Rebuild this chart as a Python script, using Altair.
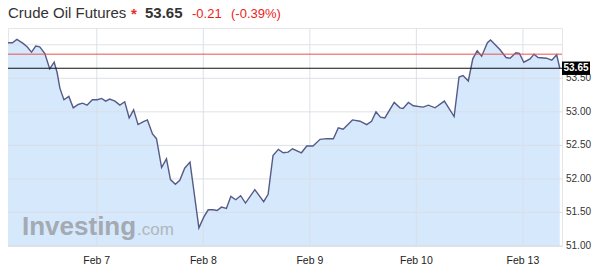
import altair as alt
import pandas as pd

# trading-time hours (Feb 6 00:00 = 0, weekend skipped so Feb 13 = 120)
hours = [4.0, 5.0, 6.0, 7.4, 8.3, 9.3, 10.25, 11.15, 12.3, 13.4,
         14.4, 15.05, 15.7, 16.6, 17.7, 18.7, 19.8, 20.8, 21.8, 23.0,
         24.1, 25.1, 26.0, 26.9, 28.1, 29.2, 30.3, 31.3, 32.3, 33.3,
         34.4, 35.4, 36.55, 37.45, 38.6, 39.7, 40.6, 41.7, 42.7, 43.8,
         45.0, 47.0, 48.1, 49.1, 50.2, 51.1, 52.1, 53.2, 54.2, 55.3,
         56.4, 57.5, 59.6, 61.6, 62.6, 63.7, 64.9, 66.0, 67.1, 68.1,
         70.1, 71.3, 72.7, 74.3, 75.8, 77.3, 78.4, 79.5, 81.6, 83.3,
         84.8, 85.9, 86.9, 87.9, 88.9, 91.0, 92.3, 93.0, 94.2, 95.3,
         97.5, 98.7, 100.2, 102.3, 104.5, 105.6, 106.5, 107.7, 108.7, 109.7,
         110.7, 112.0, 112.7, 114.8, 116.2, 117.1, 118.4, 119.2, 120.2, 121.6,
         122.5, 123.4, 125.3, 126.5, 127.6, 128.3]
prices = [54.03, 54.03, 54.08, 54.02, 53.97, 53.89, 53.98, 53.97, 53.87, 53.64,
          53.74, 53.59, 53.35, 53.18, 53.23, 53.06, 53.11, 53.13, 53.10, 53.18,
          53.18, 53.20, 53.16, 53.19, 53.16, 53.10, 53.15, 52.91, 53.03, 52.81,
          52.85, 52.88, 52.67, 52.60, 52.17, 52.30, 51.99, 51.92, 51.98, 52.16,
          52.25, 51.27, 51.43, 51.54, 51.54, 51.53, 51.58, 51.56, 51.74, 51.69,
          51.75, 51.64, 51.84, 51.66, 51.77, 52.35, 52.44, 52.39, 52.40, 52.45,
          52.39, 52.49, 52.49, 52.59, 52.60, 52.60, 52.76, 52.74, 52.88, 52.86,
          52.81, 52.86, 53.00, 52.92, 52.91, 53.14, 53.06, 53.05, 53.14, 53.09,
          53.07, 53.10, 53.06, 53.16, 52.93, 53.52, 53.54, 53.46, 53.79, 53.91,
          53.83, 54.03, 54.07, 53.93, 53.81, 53.80, 53.88, 53.87, 53.74, 53.79,
          53.86, 53.81, 53.80, 53.77, 53.85, 53.65]

tick_hours = [24, 48, 72, 96, 120]
tick_labels = ["Feb 7", "Feb 8", "Feb 9", "Feb 10", "Feb 13"]
grid_prices = [51.0, 51.5, 52.0, 52.5, 53.0, 53.5, 54.0]
label_prices = [51.0, 51.5, 52.0, 52.5, 53.0, 53.5]

last_price = 53.65
prev_close = 53.86
change_text = "-0.21"
pct_text = "(-0.39%)"
title_text = "Crude Oil Futures"

FONT = "Liberation Sans"
GRID = "#d9dde4"

df = pd.DataFrame({"h": hours, "p": prices})

xscale = alt.Scale(domain=[4, 128.8], nice=False, zero=False)
yscale = alt.Scale(domain=[51.0, 54.25], nice=False, zero=False)

X = alt.X("h:Q", scale=xscale, axis=None)
Y = alt.Y("p:Q", scale=yscale, axis=None)

base = alt.Chart(df)

area = base.mark_area(color="#d6e8fc", opacity=1, clip=True).encode(
    x=X, y=Y, y2=alt.datum(51.0))
line = base.mark_line(color="#555b88", strokeWidth=1.4, clip=True).encode(
    x=X, y=Y)

ygrid = alt.Chart(pd.DataFrame({"p": grid_prices})).mark_rule(
    color=GRID, strokeWidth=1, opacity=0.9).encode(y=Y)
xgrid = alt.Chart(pd.DataFrame({"h": tick_hours})).mark_rule(
    color=GRID, strokeWidth=1, opacity=0.9).encode(x=X)

ylabels = alt.Chart(pd.DataFrame({"p": label_prices})).mark_text(
    align="left", baseline="middle", fontSize=10, color="#333333", font=FONT
).encode(x=alt.value(558), y=Y, text=alt.Text("p:Q", format=".2f"))
xlabels = alt.Chart(pd.DataFrame({"h": tick_hours, "lab": tick_labels})).mark_text(
    align="center", baseline="middle", fontSize=10.5, color="#222222", font=FONT
).encode(x=X, y=alt.value(233), text="lab:N")

red_rule = alt.Chart(pd.DataFrame({"p": [prev_close]})).mark_rule(
    color="#e5534f", strokeWidth=1).encode(y=Y)
black_rule = alt.Chart(pd.DataFrame({"p": [last_price]})).mark_rule(
    color="#111111", strokeWidth=1.2).encode(y=Y)

box = alt.Chart(pd.DataFrame({"p": [last_price]})).transform_calculate(
    p1="datum.p + 0.1", p2="datum.p - 0.1").mark_rect(color="#000000").encode(
    x=alt.value(554), x2=alt.value(582),
    y=alt.Y("p1:Q", scale=yscale, axis=None), y2="p2:Q")
box_text = alt.Chart(pd.DataFrame({"p": [last_price]})).mark_text(
    color="white", fontSize=10, fontWeight="bold", font=FONT, align="center",
    baseline="middle").encode(x=alt.value(568), y=Y,
                              text=alt.Text("p:Q", format=".2f"))

def label(txt, x, y, size, color, weight="normal"):
    return alt.Chart(pd.DataFrame({"t": [txt]})).mark_text(
        align="left", baseline="alphabetic", fontSize=size, color=color,
        fontWeight=weight, font=FONT).encode(
        x=alt.value(x), y=alt.value(y), text="t:N")

t1 = label(title_text, 0, -10.5, 15, "#333333")
t2 = label("*", 123, -9, 15, "#e8302b", "bold")
t3 = label(f"{last_price:.2f}", 137, -10.5, 15, "#333333", "bold")
t4 = label(change_text, 184, -10.5, 13, "#ee1c1c")
t5 = label(pct_text, 223, -10.5, 13, "#ee1c1c")
w1 = label("Investing", 14, 207, 26, "#a3aab2", "bold")
w2 = label(".com", 129, 207, 17, "#b0b6bd")

chart = alt.layer(area, xgrid, ygrid, w1, w2, line, red_rule, black_rule,
                  ylabels, box, box_text, xlabels,
                  t1, t2, t3, t4, t5).properties(
    width=554, height=218,
    autosize=alt.AutoSizeParams(type="none"),
    padding={"left": 8, "top": 28, "right": 38, "bottom": 33},
    background="white",
).configure_view(stroke="#e6e6e6", strokeWidth=1)

chart.save("out.html", embed_options={"renderer": "svg", "actions": False})
